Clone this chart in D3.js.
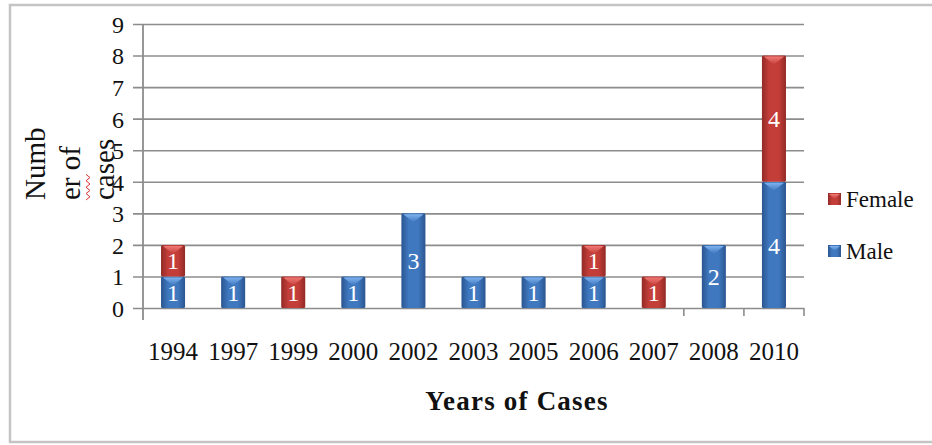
<!DOCTYPE html>
<html>
<head>
<meta charset="utf-8">
<script src="https://cdn.jsdelivr.net/npm/d3@7"></script>
<style>
  body { margin: 0; background: #fff; }
  svg { display: block; }
  svg text { font-family: "Liberation Serif", "Times New Roman", serif; }
</style>
</head>
<body>
<div id="chart"></div>
<script>
// data
const years = ["1994", "1997", "1999", "2000", "2002", "2003", "2005", "2006", "2007", "2008", "2010"];
const male = [1, 1, 0, 1, 3, 1, 1, 1, 0, 2, 4];
const female = [1, 0, 1, 0, 0, 0, 0, 1, 1, 0, 4];
const seriesNames = ["Male", "Female"];
const yTicks = [0, 1, 2, 3, 4, 5, 6, 7, 8, 9];

const width = 932, height = 445;
const serif = "Liberation Serif";

const rows = years.map((y, i) => ({ year: y, Male: male[i], Female: female[i] }));
const stacked = d3.stack().keys(seriesNames)(rows);

const colors = {
    Male: { dark: "#2b5590", mid: "#3f78bf", light: "#7fb2ee" },
    Female: { dark: "#922a26", mid: "#c43e39", light: "#f07a76" }
};

const svg = d3.select("#chart").append("svg")
    .attr("width", width)
    .attr("height", height);

// outer frame
svg.append("rect")
    .attr("x", 10).attr("y", 5)
    .attr("width", 940).attr("height", 437)
    .attr("fill", "none")
    .attr("stroke", "#c4c4c4")
    .attr("stroke-width", 2.5);

const defs = svg.append("defs");
seriesNames.forEach(k => {
    const g = defs.append("linearGradient").attr("id", "grad-" + k)
        .attr("x1", "0%").attr("x2", "100%").attr("y1", "0%").attr("y2", "0%");
    g.append("stop").attr("offset", "0%").attr("stop-color", colors[k].dark);
    g.append("stop").attr("offset", "30%").attr("stop-color", colors[k].mid);
    g.append("stop").attr("offset", "70%").attr("stop-color", colors[k].mid);
    g.append("stop").attr("offset", "100%").attr("stop-color", colors[k].dark);
    const t = defs.append("linearGradient").attr("id", "tri-" + k)
        .attr("x1", "0%").attr("x2", "0%").attr("y1", "0%").attr("y2", "100%");
    t.append("stop").attr("offset", "0%").attr("stop-color", colors[k].light);
    t.append("stop").attr("offset", "100%").attr("stop-color", colors[k].mid);
});

const x = d3.scaleBand()
    .domain(years)
    .range([143, 804])
    .paddingInner(0.6)
    .paddingOuter(0.3);

const y = d3.scaleLinear()
    .domain([0, 9])
    .range([308, 24]);

// gridlines + y axis
const yAxis = svg.append("g")
    .attr("transform", "translate(143,0)")
    .call(d3.axisLeft(y).tickValues(yTicks).tickSize(10).tickFormat(d3.format("d")));
yAxis.attr("font-family", serif);
yAxis.select(".domain").remove();
yAxis.selectAll(".tick line").attr("stroke", "#8c8c8c").attr("stroke-width", 1.6)
    .attr("x2", 804 - 143).attr("x1", -10);
yAxis.selectAll(".tick text")
    .attr("x", -19)
    .attr("dy", "0.35em")
    .attr("font-size", 24)
    .attr("font-family", serif)
    .attr("fill", "#111");

svg.append("line")
    .attr("x1", 143).attr("x2", 143)
    .attr("y1", y(9)).attr("y2", 320)
    .attr("stroke", "#8c8c8c").attr("stroke-width", 1.8);

// x axis: only the last few category boundary ticks show in the original
const step = x.step();
const bounds = [9, 10, 11].map(i => 143 + i * step);
svg.append("g").selectAll("line")
    .data(bounds)
    .join("line")
    .attr("x1", d => d).attr("x2", d => d)
    .attr("y1", y(0)).attr("y2", y(0) + 8)
    .attr("stroke", "#8c8c8c").attr("stroke-width", 1.6);

svg.append("g").selectAll("text")
    .data(years)
    .join("text")
    .attr("x", d => x(d) + x.bandwidth() / 2)
    .attr("y", 360)
    .attr("text-anchor", "middle")
    .attr("font-family", serif)
    .attr("font-size", 25)
    .attr("fill", "#111")
    .text(d => d);

// bars
const segs = [];
stacked.forEach(s => {
    s.forEach(d => {
        if (d[1] - d[0] > 0) segs.push({ key: s.key, year: d.data.year, y0: d[0], y1: d[1] });
    });
});

const bars = svg.append("g").selectAll("g")
    .data(segs)
    .join("g");

bars.append("rect")
    .attr("x", d => x(d.year))
    .attr("y", d => y(d.y1))
    .attr("width", x.bandwidth())
    .attr("height", d => y(d.y0) - y(d.y1))
    .attr("rx", 1.5)
    .attr("fill", d => "url(#grad-" + d.key + ")");

bars.append("path")
    .attr("d", d => {
        const x0 = x(d.year) + 2, x1 = x(d.year) + x.bandwidth() - 2, t = y(d.y1) + 1;
        return `M${x0},${t} L${x1},${t} L${(x0 + x1) / 2},${t + 8} Z`;
    })
    .attr("fill", d => "url(#tri-" + d.key + ")");

bars.append("text")
    .attr("x", d => x(d.year) + x.bandwidth() / 2)
    .attr("y", d => (y(d.y0) + y(d.y1)) / 2)
    .attr("dy", "0.36em")
    .attr("text-anchor", "middle")
    .attr("font-family", serif)
    .attr("font-size", 24)
    .attr("fill", "#fff")
    .text(d => d.y1 - d.y0);

// y axis title, three lines
const titleLines = [
    { t: "Numb", x: 45 },
    { t: "er of", x: 80 },
    { t: "cases", x: 114 }
];
svg.append("g").selectAll("text")
    .data(titleLines)
    .join("text")
    .attr("transform", d => `translate(${d.x},200) rotate(-90)`)
    .attr("font-family", serif)
    .attr("font-size", 29)
    .attr("fill", "#111")
    .text(d => d.t);

// spell-check squiggle under "er"
const sq = d3.range(0, 9).map(i => [i % 2 === 0 ? 86 : 90, 200 - i * 3.2]);
svg.append("path")
    .attr("d", d3.line()(sq))
    .attr("fill", "none")
    .attr("stroke", "#e03030")
    .attr("stroke-width", 1);

// x axis title
svg.append("text")
    .attr("x", 517)
    .attr("y", 410)
    .attr("text-anchor", "middle")
    .attr("font-family", serif)
    .attr("font-size", 27)
    .attr("font-weight", "bold")
    .attr("letter-spacing", 1.2)
    .attr("fill", "#111")
    .text("Years of Cases");

// legend
const legend = [
    { key: "Female", y: 199 },
    { key: "Male", y: 251 }
];
const lg = svg.append("g").selectAll("g")
    .data(legend)
    .join("g")
    .attr("transform", d => `translate(828,${d.y})`);
lg.append("rect")
    .attr("x", 0).attr("y", -6)
    .attr("width", 13).attr("height", 12)
    .attr("fill", d => "url(#grad-" + d.key + ")");
lg.append("path")
    .attr("d", "M1,-5 L12,-5 L6.5,0 Z")
    .attr("fill", d => "url(#tri-" + d.key + ")");
lg.append("text")
    .attr("x", 18)
    .attr("y", 8)
    .attr("font-family", serif)
    .attr("font-size", 23)
    .attr("fill", "#111")
    .text(d => d.key);
</script>
</body>
</html>
